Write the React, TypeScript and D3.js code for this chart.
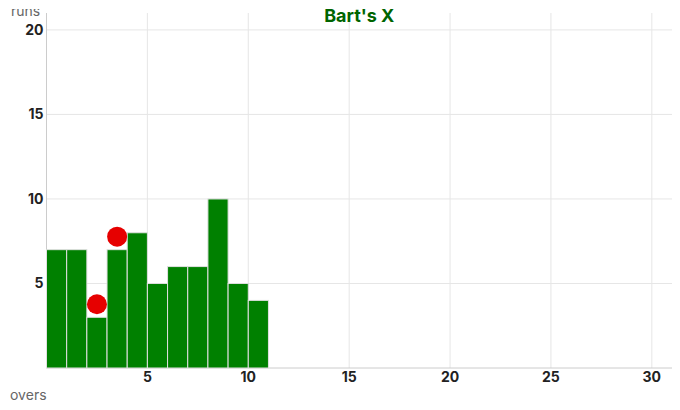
import { useRef, useEffect } from 'react'
import * as d3 from 'd3'

const overs = [1, 2, 3, 4, 5, 6, 7, 8, 9, 10, 11]
const runs = [7, 7, 3, 7, 8, 5, 6, 6, 10, 5, 4]
const wicketOvers = [3, 4]
const xTicks = [5, 10, 15, 20, 25, 30]
const yTicks = [5, 10, 15, 20]
const title = "Bart's X"

const WIDTH = 680
const HEIGHT = 410
const MARGIN = { top: 13, right: 8, bottom: 42, left: 46.5 }

export default function App() {
  const svgRef = useRef<SVGSVGElement>(null)

  useEffect(() => {
    if (!svgRef.current) return
    const svg = d3.select(svgRef.current)
    svg.selectAll('*').remove()

    const x = d3.scaleLinear().domain([0, 31]).range([MARGIN.left, WIDTH - MARGIN.right])
    const y = d3.scaleLinear().domain([0, 21]).range([HEIGHT - MARGIN.bottom, MARGIN.top])
    const font = 'Inter, "Noto Sans", sans-serif'

    // grid
    svg.append('g')
      .selectAll('line')
      .data(xTicks)
      .join('line')
      .attr('x1', (d) => x(d))
      .attr('x2', (d) => x(d))
      .attr('y1', MARGIN.top)
      .attr('y2', y(0))
      .attr('stroke', '#e6e6e6')
    svg.append('g')
      .selectAll('line')
      .data(yTicks)
      .join('line')
      .attr('x1', x(0))
      .attr('x2', WIDTH - MARGIN.right)
      .attr('y1', (d) => y(d))
      .attr('y2', (d) => y(d))
      .attr('stroke', '#e6e6e6')

    // axis lines
    svg.append('line')
      .attr('x1', x(0)).attr('x2', x(0))
      .attr('y1', MARGIN.top).attr('y2', y(0))
      .attr('stroke', '#ccc')
    svg.append('line')
      .attr('x1', x(0)).attr('x2', WIDTH - MARGIN.right)
      .attr('y1', y(0)).attr('y2', y(0))
      .attr('stroke', '#ccc')

    // tick labels
    svg.append('g')
      .selectAll('text')
      .data(yTicks)
      .join('text')
      .attr('x', x(0) - 3)
      .attr('y', (d) => y(d) + 5)
      .attr('text-anchor', 'end')
      .attr('font-family', font)
      .attr('font-weight', 700)
      .attr('font-size', 14)
      .attr('fill', '#222')
      .text((d) => d)
    svg.append('g')
      .selectAll('text')
      .data(xTicks)
      .join('text')
      .attr('x', (d) => x(d))
      .attr('y', y(0) + 14)
      .attr('text-anchor', 'middle')
      .attr('font-family', font)
      .attr('font-weight', 700)
      .attr('font-size', 14)
      .attr('fill', '#222')
      .text((d) => d)

    // bars
    svg.append('g')
      .selectAll('rect')
      .data(overs)
      .join('rect')
      .attr('x', (d) => x(d - 1))
      .attr('y', (_, i) => y(runs[i]))
      .attr('width', (d) => x(d) - x(d - 1))
      .attr('height', (_, i) => y(0) - y(runs[i]))
      .attr('fill', '#008000')
      .attr('stroke', '#e0e0e0')
      .attr('stroke-width', 1)

    // wickets
    svg.append('g')
      .selectAll('circle')
      .data(wicketOvers)
      .join('circle')
      .attr('cx', (d) => x(d - 0.5))
      .attr('cy', (d) => y(runs[d - 1]) - 13)
      .attr('r', 10)
      .attr('fill', '#e60000')

    // labels
    svg.append('text')
      .attr('x', (MARGIN.left + WIDTH - MARGIN.right) / 2)
      .attr('y', 22)
      .attr('text-anchor', 'middle')
      .attr('font-family', font)
      .attr('font-weight', 700)
      .attr('font-size', 18)
      .attr('fill', '#006400')
      .text(title)
    svg.append('clipPath')
      .attr('id', 'runsClip')
      .append('rect')
      .attr('x', 0).attr('y', 9).attr('width', 60).attr('height', 20)
    svg.append('text')
      .attr('x', 11)
      .attr('y', 16)
      .attr('font-family', font)
      .attr('font-size', 14)
      .attr('fill', '#666')
      .attr('clip-path', 'url(#runsClip)')
      .text('runs')
    svg.append('text')
      .attr('x', 10)
      .attr('y', 400)
      .attr('font-family', font)
      .attr('font-size', 14)
      .attr('fill', '#666')
      .text('overs')
  }, [])

  return (
    <svg
      ref={svgRef}
      width={WIDTH}
      height={HEIGHT}
      style={{ position: 'absolute', left: 0, top: 0, background: '#fff' }}
    />
  )
}
